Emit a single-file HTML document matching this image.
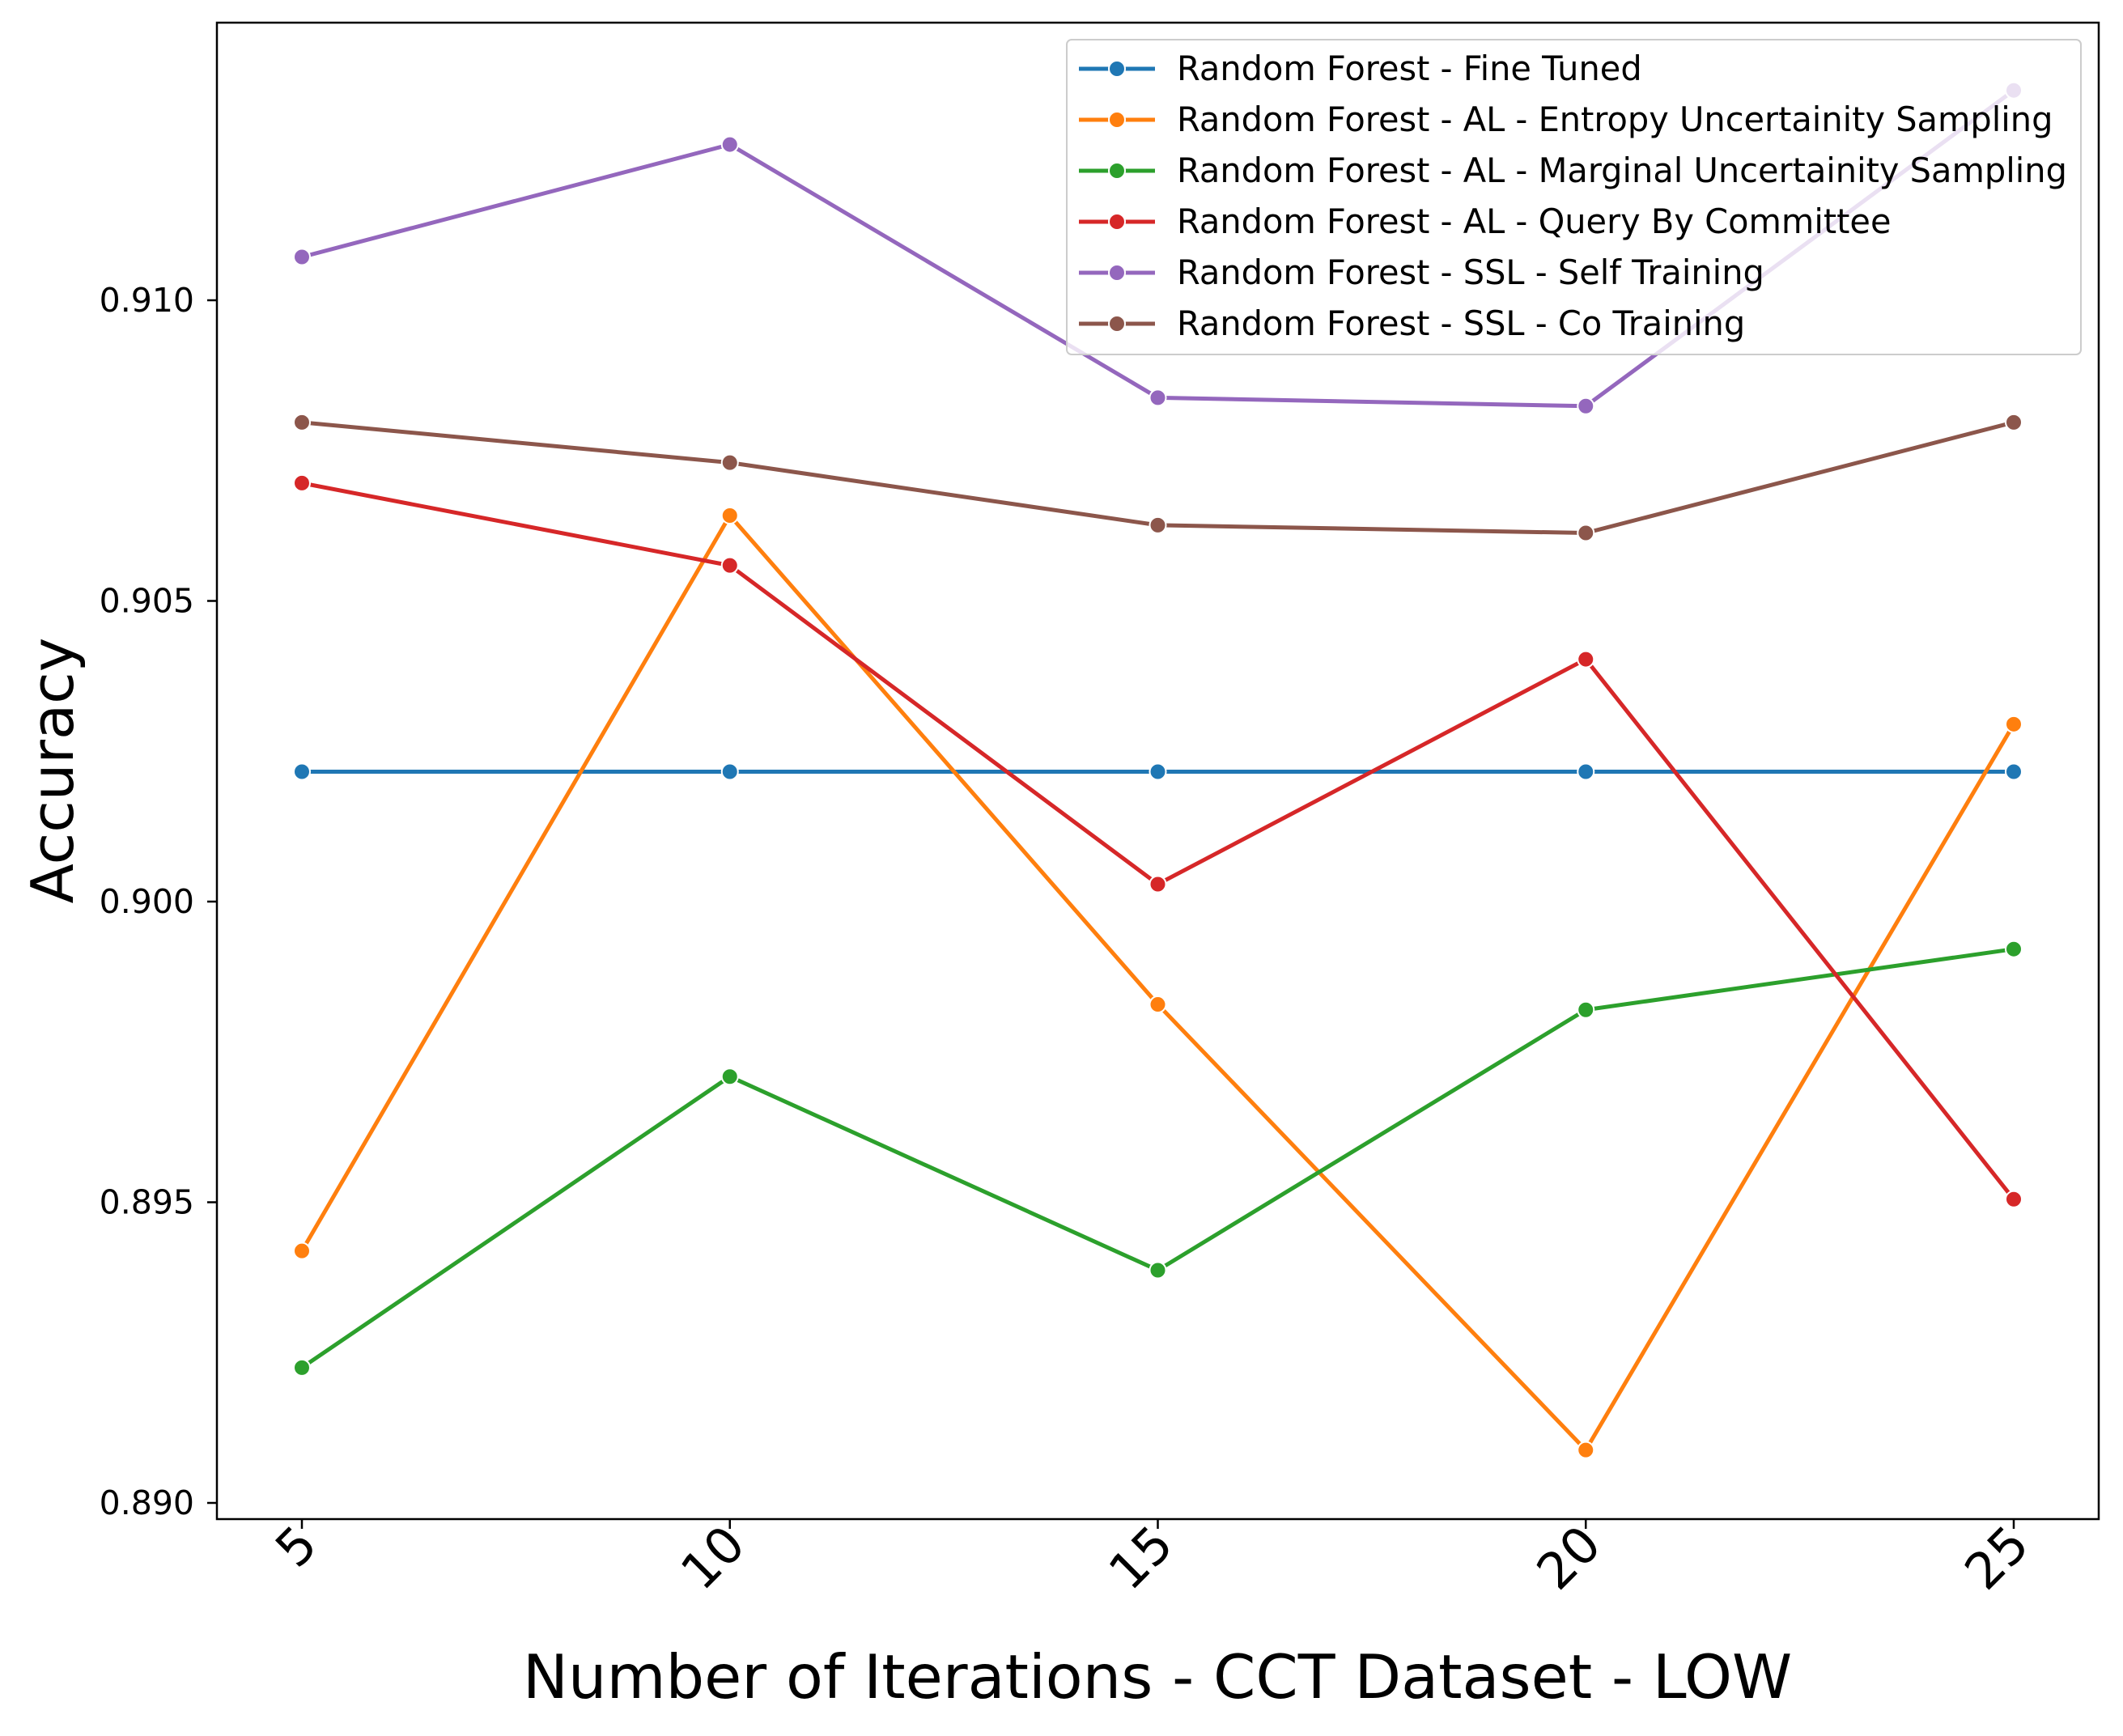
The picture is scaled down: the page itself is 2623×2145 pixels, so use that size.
<!DOCTYPE html>
<html><head><meta charset="utf-8"><style>
html,body{margin:0;padding:0;background:#fff;}
svg{display:block;font-family:"DejaVu Sans","Liberation Sans",sans-serif;}
</style></head><body>
<svg id="chart" width="2623" height="2145" viewBox="0 0 2623 2145">
<rect x="0" y="0" width="2623" height="2145" fill="#fff"/>
<g id="grid"></g>
<g id="series"></g>
<rect x="268" y="28" width="2325" height="1849" fill="none" stroke="#000" stroke-width="2.5"/>
<g id="axes"></g>
<text x="1430" y="2098" font-size="75" text-anchor="middle">Number of Iterations - CCT Dataset - LOW</text>
<text transform="translate(90,952) rotate(-90)" font-size="72" text-anchor="middle">Accuracy</text>
<g id="legend"></g>
</svg>
<script>
const categories=[5,10,15,20,25];
const seriesNames=["Random Forest - Fine Tuned","Random Forest - AL - Entropy Uncertainity Sampling","Random Forest - AL - Marginal Uncertainity Sampling","Random Forest - AL - Query By Committee","Random Forest - SSL - Self Training","Random Forest - SSL - Co Training"];
const fineTuned=[0.90216,0.90216,0.90216,0.90216,0.90216];
const entropy=[0.89419,0.90642,0.89829,0.89088,0.90295];
const marginal=[0.89225,0.89709,0.89387,0.89820,0.89921];
const qbc=[0.90696,0.90559,0.90029,0.90403,0.89505];
const selfTraining=[0.91072,0.91259,0.90838,0.90824,0.91349];
const coTraining=[0.90797,0.90730,0.90626,0.90613,0.90797];
const yTicks=[0.890,0.895,0.900,0.905,0.910];
const xTicks=[5,10,15,20,25];
const colors=["#1f77b4","#ff7f0e","#2ca02c","#d62728","#9467bd","#8c564b"];
const allSeries=[fineTuned,entropy,marginal,qbc,selfTraining,coTraining];
const NS="http://www.w3.org/2000/svg";
function xs(v){return 373+(v-5)*(2488-373)/20;}
function ys(v){return 1857-(v-0.890)*(1857-371)/0.020;}
function mk(tag,attrs,parent){const e=document.createElementNS(NS,tag);for(const k in attrs)e.setAttribute(k,attrs[k]);parent.appendChild(e);return e;}
const axes=document.getElementById('axes');
yTicks.forEach(t=>{
 const y=ys(t);
 const l=mk('line',{x1:256,x2:268,y1:y,y2:y,stroke:'#000','stroke-width':2.5},axes);
 
 
 const tx=mk('text',{x:240,y:y+14,'font-size':41,'text-anchor':'end'},axes);
 tx.textContent=t.toFixed(3);
 
 
});
xTicks.forEach(t=>{
 const x=xs(t);
 const l=mk('line',{x1:x,x2:x,y1:1877,y2:1889,stroke:'#000','stroke-width':2.5},axes);
 
 
 const tx=mk('text',{transform:`translate(${x+22},${1912}) rotate(-45)`,'font-size':62,'text-anchor':'end'},axes);
 tx.textContent=t;
 
 
});
const sg=document.getElementById('series');
allSeries.forEach((s,i)=>{
 const g=mk('g',{},sg);
 
 
 const pts=s.map((v,j)=>xs(categories[j])+','+ys(v)).join(' ');
 const pl=mk('polyline',{points:pts,fill:'none',stroke:colors[i],'stroke-width':5},g);
 
 
 s.forEach((v,j)=>{
  const c=mk('circle',{cx:xs(categories[j]),cy:ys(v),r:10,fill:colors[i],stroke:'#fff','stroke-width':2},g);
  
  
 });
});
const lg=document.getElementById('legend');
const box=mk('rect',{x:1318,y:49,width:1253,height:389,rx:6,fill:'#fff','fill-opacity':0.8,stroke:'#ccc','stroke-width':2},lg);


seriesNames.forEach((n,i)=>{
 const y=85+i*63;
 const g=mk('g',{},lg);
 
 
 mk('line',{x1:1333,x2:1427,y1:y,y2:y,stroke:colors[i],'stroke-width':5},g);
 mk('circle',{cx:1380,cy:y,r:10,fill:colors[i],stroke:'#fff','stroke-width':2},g);
 const t=mk('text',{x:1454,y:y+14,'font-size':41.5},g);
 t.textContent=n;
});
</script>
</body></html>
